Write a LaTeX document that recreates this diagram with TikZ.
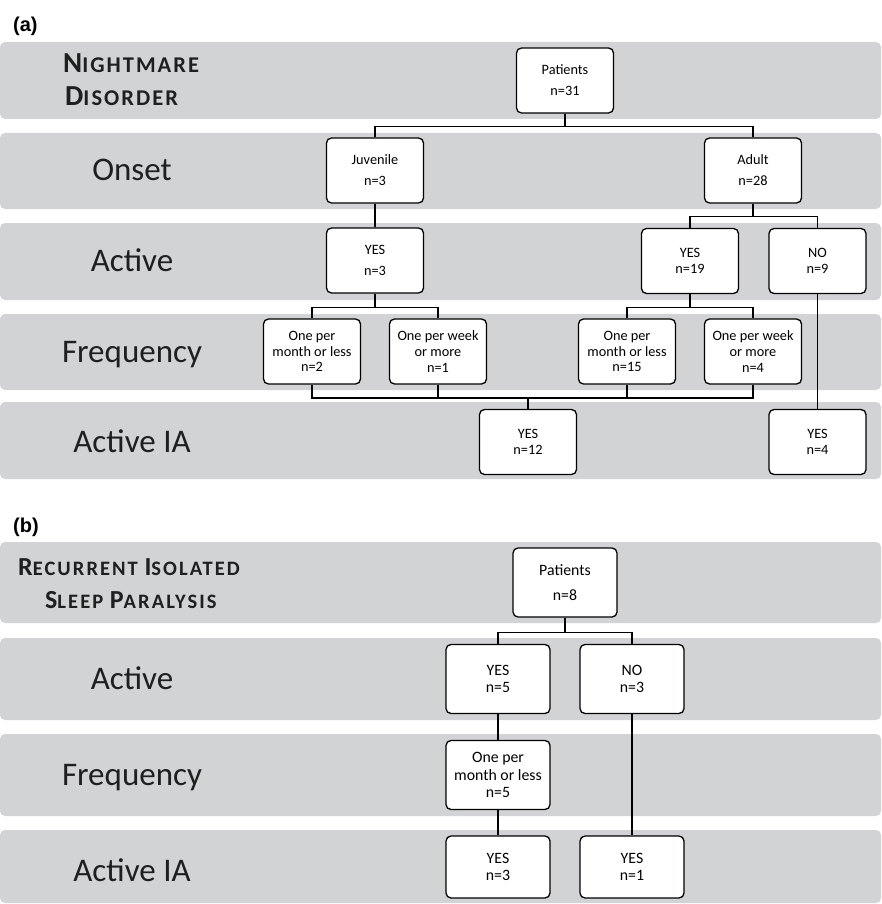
\documentclass[tikz,border=0pt]{standalone}
\usepackage{fontspec}
\setmainfont{Carlito}
\newfontfamily\arialfont{Liberation Sans}
\definecolor{bandgray}{HTML}{D1D3D4}
\newcommand{\fakesc}[4]{{\fontsize{#3}{#3}\selectfont #1}{\fontsize{#4}{#4}\selectfont #2}}
\begin{document}
\begin{tikzpicture}[x=1pt,y=-1pt,
  band/.style={fill=bandgray, rounded corners=5pt},
  box/.style={draw=black, line width=1.3pt, fill=white, rounded corners=5pt,
    minimum width=97pt, minimum height=65pt, align=center, inner sep=0pt,
    font=\fontsize{14.3}{15.7}\selectfont},
  widebox/.style={box, font=\fontsize{14.3}{21}\selectfont},
  bbox/.style={box, minimum width=104pt, minimum height=69pt,
    font=\fontsize{15.8}{17.3}\selectfont},
  bwidebox/.style={bbox, font=\fontsize{15.8}{25}\selectfont},
  rowlab/.style={anchor=base, inner sep=0pt, font=\fontsize{33}{33}\selectfont, text=black!88},
  heada/.style={anchor=base west, inner sep=0pt, text=black!88,
    font=\bfseries\addfontfeature{LetterSpace=9}\fontsize{22.5}{22.5}\selectfont},
  headb/.style={anchor=base west, inner sep=0pt, text=black!88,
    font=\bfseries\addfontfeature{LetterSpace=10}\fontsize{20.5}{20.5}\selectfont},
  panel/.style={anchor=base west, inner sep=0pt, font=\arialfont\bfseries\fontsize{20}{20}\selectfont},
  conn/.style={draw=black, line width=1.3pt}
]
\useasboundingbox (0,0) rectangle (882,904);

% ---------- panel (a) ----------
\node[panel] (pa) at (13,32) {(a)};
\fill[band] (0,42) rectangle (881,119);
\fill[band] (0,133) rectangle (881,209);
\fill[band] (0,223) rectangle (881,300);
\fill[band] (0,314) rectangle (881,390);
\fill[band] (0,402) rectangle (881,479);

\node[heada] (ha1) at (63,73) {\fakesc{N}{IGHTMARE}{29}{22.5}};
\node[heada] (ha2) at (65,106) {\fakesc{D}{ISORDER}{29}{22.5}};
\node[rowlab] (ra1) at (132,181) {Onset};
\node[rowlab] (ra2) at (132,271) {Active};
\node[rowlab] (ra3) at (132,362) {Frequency};
\node[rowlab] (ra4) at (132,452) {Active IA};

\node[widebox] (pat) at (565,80.5) {Patients\\n=31};
\node[widebox] (juv) at (375,170.5) {Juvenile\\n=3};
\node[widebox] (adu) at (753,170.5) {Adult\\n=28};
\node[widebox] (ay1) at (375,260.5) {YES\\n=3};
\node[box] (ay2) at (690,261) {YES\\n=19};
\node[box] (ano) at (817.5,261) {NO\\n=9};
\node[box] (f1) at (312,351.5) {One per\\month or less\\n=2};
\node[box] (f2) at (438,351.5) {One per week\\or more\\n=1};
\node[box] (f3) at (627,351.5) {One per\\month or less\\n=15};
\node[box] (f4) at (753,351.5) {One per week\\or more\\n=4};
\node[box] (ia1) at (528,442) {YES\\n=12};
\node[box] (ia2) at (817.5,442) {YES\\n=4};

\draw[conn] (pat.south) -- ++(0,13) coordinate (b1);
\draw[conn] (juv.north) |- (b1) -| (adu.north);
\draw[conn] (juv.south) -- (ay1.north);
\draw[conn] (adu.south) -- ++(0,13) coordinate (b2);
\draw[conn] (ay2.north) |- (b2) -| (ano.north);
\draw[conn] (ay1.south) -- ++(0,14) coordinate (b3);
\draw[conn] (f1.north) |- (b3) -| (f2.north);
\draw[conn] (ay2.south) -- ++(0,13) coordinate (b4);
\draw[conn] (f3.north) |- (b4) -| (f4.north);
\coordinate (m) at (528,398);
\draw[conn] (f1.south) |- (m) -| (f4.south);
\draw[conn] (f2.south) -- (f2.south |- m);
\draw[conn] (f3.south) -- (f3.south |- m);
\draw[conn] (m) -- (ia1.north);
\draw[conn] (ano.south) -- (ia2.north);

% ---------- panel (b) ----------
\node[panel] (pb) at (13,532) {(b)};
\fill[band] (0,542) rectangle (881,623);
\fill[band] (0,638) rectangle (881,720);
\fill[band] (0,734) rectangle (881,816);
\fill[band] (0,830) rectangle (881,903);

\node[headb] (hb1) at (18,575) {\fakesc{R}{ECURRENT}{26}{20.5} \fakesc{I}{SOLATED}{26}{20.5}};
\node[headb] (hb2) at (45,608) {\fakesc{S}{LEEP}{26}{20.5} \fakesc{P}{ARALYSIS}{26}{20.5}};
\node[rowlab] (rb1) at (132,689) {Active};
\node[rowlab] (rb2) at (132,785) {Frequency};
\node[rowlab] (rb3) at (132,881) {Active IA};

\node[bwidebox] (pat2) at (565,582.5) {Patients\\n=8};
\node[bbox] (by) at (498,679) {YES\\n=5};
\node[bbox] (bn) at (632,679) {NO\\n=3};
\node[bbox] (bf) at (498,775) {One per\\month or less\\n=5};
\node[bbox, minimum height=62pt] (bi1) at (498,867) {YES\\n=3};
\node[bbox, minimum height=62pt] (bi2) at (632,867) {YES\\n=1};

\draw[conn] (pat2.south) -- ++(0,15) coordinate (c1);
\draw[conn] (by.north) |- (c1) -| (bn.north);
\draw[conn] (by.south) -- (bf.north);
\draw[conn] (bf.south) -- (bi1.north);
\draw[conn] (bn.south) -- (bi2.north);
\end{tikzpicture}
\end{document}
